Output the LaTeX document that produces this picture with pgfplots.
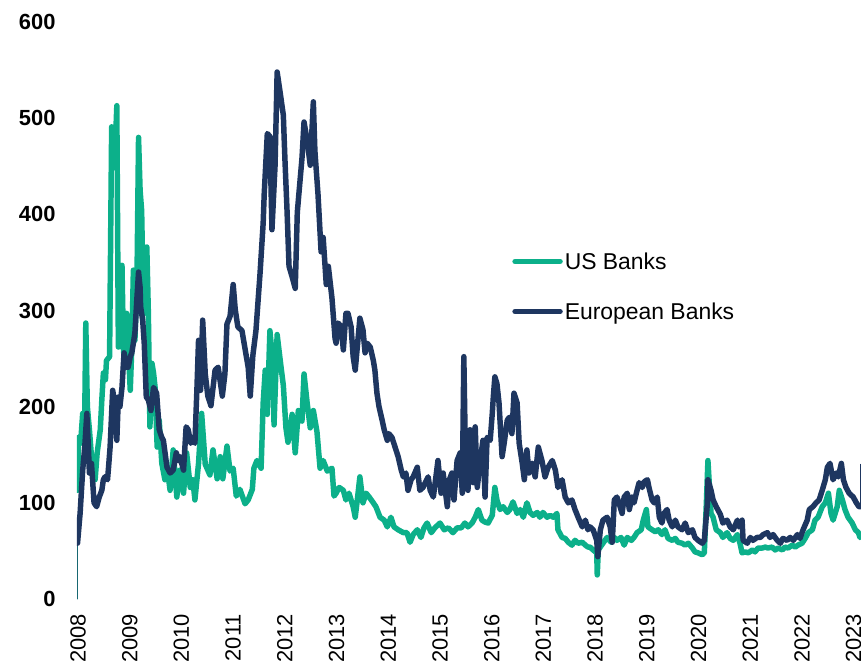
\documentclass[border=0pt]{standalone}
\usepackage{fontspec}
\setmainfont{Liberation Sans}
\usepackage{pgfplots}
\pgfplotsset{compat=1.18}
\definecolor{usgreen}{RGB}{12,176,138}
\definecolor{eunavy}{RGB}{30,54,96}
\newcommand\tickfont{\fontsize{22}{26}\selectfont}
\newcommand\legfont{\fontsize{23}{27}\selectfont}
\begin{document}
\begin{tikzpicture}
\path[use as bounding box] (-77bp,-69bp) rectangle (784bp,599bp);
\begin{axis}[
  at={(0,0)}, anchor=south west,
  scale only axis, width=784bp, height=577bp,
  xmin=2007.98, xmax=2023.14, ymin=0, ymax=600,
  xtick={2008,...,2023}, ytick={0,100,...,600},
  axis line style={draw=none}, major tick length=0pt,
  /pgf/number format/1000 sep={},
  /pgf/number format/assume math mode=true,
  tick label style={font=\tickfont},
  yticklabel style={font=\tickfont\bfseries, xshift=-18bp},
  xticklabel style={rotate=90, anchor=east, inner sep=0pt},
  xticklabel shift=15bp,
  legend style={at={(axis description cs:0.555,0.5416)}, anchor=west,
    draw=none, fill=none, font=\legfont, row sep=28bp, inner sep=0pt},
  legend cell align=left,
  legend image code/.code={\draw[#1] (0bp,0bp) -- (45bp,0bp);},
  every axis plot/.append style={line width=5.5pt, line join=round, line cap=round},
]
% thin start segment
\addplot[forget plot, line width=1pt, color=eunavy!60!usgreen] coordinates {(2007.99,0)(2007.99,60)};

% US Banks
\addplot[color=usgreen] coordinates {
(2007.99,113)(2008.01,168)(2008.05,162)(2008.09,193)(2008.13,193)(2008.15,287)(2008.18,200)(2008.22,176)
(2008.26,148)(2008.30,144)(2008.33,124)(2008.37,152)(2008.43,176)(2008.46,207)(2008.49,235)(2008.53,228)
(2008.55,248)(2008.61,252)(2008.65,491)(2008.68,453)(2008.72,470)(2008.75,513)(2008.78,262)(2008.81,269)
(2008.85,347)(2008.88,256)(2008.91,269)(2008.94,297)(2008.97,262)(2009.01,217)(2009.04,262)(2009.07,342)
(2009.10,269)(2009.14,332)(2009.17,480)(2009.20,425)(2009.23,404)(2009.25,345)(2009.28,297)(2009.30,360)
(2009.33,366)(2009.36,297)(2009.39,179)(2009.43,245)(2009.46,235)(2009.49,220)(2009.53,158)(2009.57,186)
(2009.62,141)(2009.68,124)(2009.73,134)(2009.78,113)(2009.84,155)(2009.91,106)(2009.97,134)(2010.04,110)
(2010.10,152)(2010.17,116)(2010.22,124)(2010.26,103)(2010.33,141)(2010.39,193)(2010.46,140)(2010.55,129)
(2010.61,155)(2010.69,125)(2010.75,148)(2010.80,125)(2010.88,159)(2010.94,133)(2011.00,136)(2011.06,107)
(2011.13,114)(2011.23,99)(2011.29,103)(2011.37,114)(2011.40,136)(2011.46,144)(2011.54,136)(2011.58,204)
(2011.62,238)(2011.66,192)(2011.71,279)(2011.77,245)(2011.79,181)(2011.85,275)(2011.91,248)(2011.97,222)
(2012.02,178)(2012.06,163)(2012.14,192)(2012.20,152)(2012.26,196)(2012.33,185)(2012.37,234)(2012.43,204)
(2012.49,178)(2012.55,196)(2012.62,174)(2012.68,136)(2012.74,144)(2012.82,133)(2012.91,136)(2012.95,107)
(2012.99,110)(2013.05,116)(2013.13,113)(2013.18,103)(2013.24,110)(2013.32,96)(2013.36,85)(2013.40,103)
(2013.45,127)(2013.51,100)(2013.57,110)(2013.63,106)(2013.71,100)(2013.76,96)(2013.84,85)(2013.92,82)
(2013.98,75)(2014.05,85)(2014.11,75)(2014.19,72)(2014.29,69)(2014.36,69)(2014.42,59)(2014.48,67)
(2014.56,72)(2014.63,64)(2014.69,74)(2014.75,79)(2014.83,69)(2014.90,74)(2015.00,79)(2015.08,72)
(2015.16,74)(2015.25,69)(2015.33,74)(2015.41,74)(2015.48,79)(2015.54,75)(2015.62,79)(2015.68,85)
(2015.74,93)(2015.81,82)(2015.87,80)(2015.93,79)(2016.01,87)(2016.06,116)(2016.10,103)(2016.16,93)
(2016.22,96)(2016.30,90)(2016.35,93)(2016.41,101)(2016.49,89)(2016.55,93)(2016.61,85)(2016.68,100)
(2016.74,90)(2016.80,87)(2016.88,90)(2016.93,85)(2016.99,90)(2017.07,85)(2017.13,87)(2017.19,85)
(2017.26,89)(2017.28,72)(2017.36,64)(2017.42,63)(2017.48,59)(2017.55,56)(2017.61,61)(2017.67,58)
(2017.75,59)(2017.81,56)(2017.86,54)(2017.90,54)(2017.96,51)(2018.03,48)(2018.04,25)(2018.06,51)
(2018.15,58)(2018.23,64)(2018.31,59)(2018.37,64)(2018.42,61)(2018.50,64)(2018.56,56)(2018.62,64)
(2018.70,61)(2018.75,64)(2018.81,69)(2018.89,72)(2018.93,82)(2018.99,93)(2019.02,75)(2019.10,72)
(2019.16,70)(2019.22,72)(2019.29,67)(2019.35,72)(2019.41,63)(2019.49,61)(2019.55,63)(2019.60,59)
(2019.68,58)(2019.74,56)(2019.80,58)(2019.88,53)(2019.93,49)(2019.99,48)(2020.07,46)(2020.11,48)
(2020.15,100)(2020.18,144)(2020.24,89)(2020.28,85)(2020.34,72)(2020.42,69)(2020.47,64)(2020.55,69)
(2020.61,63)(2020.67,61)(2020.75,67)(2020.80,58)(2020.84,48)(2020.90,49)(2020.96,48)(2021.04,51)
(2021.09,49)(2021.15,53)(2021.23,53)(2021.29,54)(2021.34,53)(2021.42,54)(2021.48,51)(2021.54,53)
(2021.62,51)(2021.67,54)(2021.73,53)(2021.81,56)(2021.87,54)(2021.92,56)(2022.00,58)(2022.06,63)
(2022.12,69)(2022.20,72)(2022.25,82)(2022.31,85)(2022.39,96)(2022.45,100)(2022.51,110)(2022.56,89)
(2022.60,82)(2022.68,96)(2022.72,113)(2022.78,103)(2022.83,93)(2022.89,85)(2022.97,79)(2023.03,72)
(2023.09,69)(2023.12,64)(2023.14,66)
};
\addlegendentry{US Banks}

% European Banks
\addplot[color=eunavy] coordinates {
(2007.99,58)(2008.04,89)(2008.09,134)(2008.13,158)(2008.17,193)(2008.20,158)(2008.22,131)(2008.26,141)
(2008.31,100)(2008.36,96)(2008.41,106)(2008.46,113)(2008.49,124)(2008.52,127)(2008.57,124)(2008.59,137)
(2008.62,158)(2008.67,217)(2008.70,207)(2008.72,193)(2008.75,165)(2008.78,210)(2008.81,200)(2008.85,220)
(2008.89,256)(2008.93,241)(2008.97,241)(2009.01,252)(2009.04,256)(2009.07,266)(2009.10,277)(2009.14,314)
(2009.17,340)(2009.20,324)(2009.21,304)(2009.25,290)(2009.28,266)(2009.32,210)(2009.36,207)(2009.41,196)
(2009.46,220)(2009.49,217)(2009.52,214)(2009.57,176)(2009.62,168)(2009.65,165)(2009.72,137)(2009.78,131)
(2009.84,134)(2009.90,152)(2009.94,144)(2009.97,148)(2010.04,134)(2010.09,179)(2010.13,176)(2010.18,162)
(2010.22,165)(2010.26,162)(2010.30,220)(2010.33,269)(2010.37,217)(2010.41,290)(2010.46,234)(2010.51,211)
(2010.57,201)(2010.65,238)(2010.71,241)(2010.79,211)(2010.84,234)(2010.88,286)(2010.94,294)(2011.00,327)
(2011.04,301)(2011.09,283)(2011.17,279)(2011.23,260)(2011.29,241)(2011.33,211)(2011.38,253)(2011.44,279)
(2011.48,309)(2011.52,339)(2011.58,391)(2011.60,421)(2011.66,484)(2011.71,481)(2011.75,384)(2011.81,451)
(2011.85,548)(2011.91,526)(2011.97,503)(2012.00,458)(2012.04,406)(2012.08,346)(2012.14,335)(2012.20,323)
(2012.24,402)(2012.27,421)(2012.33,458)(2012.37,496)(2012.43,477)(2012.49,451)(2012.55,517)(2012.58,466)
(2012.64,421)(2012.70,361)(2012.74,376)(2012.80,327)(2012.84,346)(2012.91,313)(2012.97,271)(2012.99,266)
(2013.03,287)(2013.09,283)(2013.13,259)(2013.18,297)(2013.22,297)(2013.28,283)(2013.32,252)(2013.36,238)
(2013.40,262)(2013.45,292)(2013.51,280)(2013.55,256)(2013.59,266)(2013.65,262)(2013.71,248)(2013.74,238)
(2013.78,214)(2013.82,200)(2013.88,186)(2013.92,176)(2013.98,165)(2014.01,172)(2014.07,168)(2014.13,158)
(2014.19,148)(2014.25,134)(2014.29,127)(2014.34,131)(2014.38,113)(2014.44,124)(2014.48,127)(2014.56,137)
(2014.61,113)(2014.67,116)(2014.77,127)(2014.81,113)(2014.87,106)(2014.92,127)(2014.96,144)(2015.02,110)
(2015.06,131)(2015.14,96)(2015.18,124)(2015.23,131)(2015.27,103)(2015.33,144)(2015.39,152)(2015.43,110)
(2015.46,252)(2015.49,152)(2015.52,141)(2015.54,113)(2015.58,176)(2015.64,121)(2015.68,179)(2015.72,116)
(2015.77,141)(2015.83,165)(2015.87,106)(2015.91,168)(2015.97,165)(2016.01,193)(2016.03,210)(2016.06,231)
(2016.10,224)(2016.14,204)(2016.20,148)(2016.24,162)(2016.30,186)(2016.34,189)(2016.39,172)(2016.43,214)
(2016.49,204)(2016.53,162)(2016.59,141)(2016.63,124)(2016.68,155)(2016.72,131)(2016.78,141)(2016.84,127)
(2016.90,158)(2016.97,144)(2017.03,127)(2017.09,137)(2017.17,144)(2017.23,134)(2017.28,116)(2017.36,124)
(2017.42,106)(2017.48,100)(2017.55,103)(2017.61,93)(2017.67,85)(2017.75,75)(2017.81,82)(2017.86,72)
(2017.90,75)(2017.96,72)(2018.03,61)(2018.05,44)(2018.10,72)(2018.15,82)(2018.23,85)(2018.29,75)
(2018.33,59)(2018.37,103)(2018.42,106)(2018.46,100)(2018.52,89)(2018.56,106)(2018.62,110)(2018.66,93)
(2018.71,106)(2018.75,100)(2018.81,113)(2018.85,121)(2018.91,116)(2018.95,122)(2019.01,124)(2019.04,116)
(2019.10,103)(2019.14,100)(2019.20,106)(2019.24,85)(2019.29,79)(2019.33,89)(2019.39,93)(2019.43,82)
(2019.49,75)(2019.55,82)(2019.60,75)(2019.68,72)(2019.74,79)(2019.80,69)(2019.88,72)(2019.93,64)
(2019.99,61)(2020.07,58)(2020.11,61)(2020.17,100)(2020.18,124)(2020.24,113)(2020.28,103)(2020.34,96)
(2020.42,88)(2020.47,79)(2020.55,82)(2020.61,75)(2020.67,72)(2020.75,82)(2020.78,75)(2020.84,82)
(2020.86,61)(2020.94,58)(2021.00,64)(2021.05,61)(2021.13,64)(2021.19,64)(2021.25,67)(2021.33,69)
(2021.38,64)(2021.44,67)(2021.52,61)(2021.58,58)(2021.63,63)(2021.71,61)(2021.77,64)(2021.83,61)
(2021.91,67)(2021.96,63)(2022.02,72)(2022.10,82)(2022.14,93)(2022.21,96)(2022.27,100)(2022.33,103)
(2022.39,113)(2022.45,124)(2022.49,137)(2022.54,141)(2022.60,124)(2022.66,131)(2022.70,127)(2022.76,141)
(2022.80,124)(2022.85,116)(2022.91,110)(2022.99,106)(2023.05,100)(2023.10,96)(2023.14,96)
};
\addlegendentry{European Banks}

% thin end segment
\addplot[forget plot, line width=1pt, color=eunavy] coordinates {(2023.135,96)(2023.135,140)};
\end{axis}
\end{tikzpicture}
\end{document}
